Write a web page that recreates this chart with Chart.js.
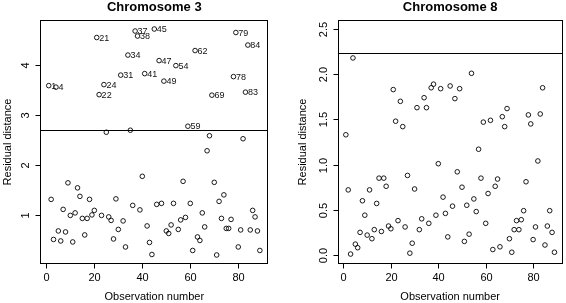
<!DOCTYPE html>
<html>
<head>
<meta charset="utf-8">
<script src="https://cdn.jsdelivr.net/npm/chart.js@4.4.0/dist/chart.umd.min.js"></script>
<style>
html,body{margin:0;padding:0;background:#fff;}
#wrap{position:relative;width:566px;height:303px;overflow:hidden;}
canvas{position:absolute;top:0;}
</style>
</head>
<body>
<div id="wrap">
<canvas id="c3" width="283" height="303" style="left:0"></canvas>
<canvas id="c8" width="283" height="303" style="left:283px"></canvas>
</div>
<script>
// observation numbers (x)
const obs = [1,2,3,4,5,6,7,8,9,10,11,12,13,14,15,16,17,18,19,20,
  21,22,23,24,25,26,27,28,29,30,31,32,33,34,35,36,37,38,39,40,
  41,42,43,44,45,46,47,48,49,50,51,52,53,54,55,56,57,58,59,60,
  61,62,63,64,65,66,67,68,69,70,71,72,73,74,75,76,77,78,79,80,
  81,82,83,84,85,86,87,88,89];

// residual distances, chromosome 3
const chr3 = [3.59,1.32,0.52,3.56,0.69,0.49,1.12,0.67,1.65,1.00,
  0.47,1.05,1.55,1.38,0.94,0.61,0.94,1.32,1.01,1.10,
  4.55,3.41,1.00,3.61,2.66,0.97,0.90,0.53,1.33,0.72,
  3.80,0.89,0.37,4.20,2.70,1.20,4.68,4.58,1.11,1.78,
  3.83,0.79,0.46,0.22,4.72,1.22,4.09,1.24,3.68,0.69,
  0.64,0.81,1.24,3.99,0.72,0.91,1.68,0.96,2.78,1.24,
  0.30,4.29,0.57,0.50,1.05,0.77,2.29,2.59,3.40,1.66,
  0.21,1.28,0.94,1.41,0.74,0.74,0.92,3.77,4.65,0.37,
  0.71,2.53,3.46,4.40,0.71,1.10,0.97,0.69,0.30];

// residual distances, chromosome 8
const chr8 = [1.33,0.72,0.01,2.18,0.12,0.08,0.25,0.60,0.44,0.22,
  0.72,0.18,0.28,0.57,0.85,0.26,0.85,0.76,0.32,0.29,
  1.83,1.48,0.38,1.70,1.42,0.31,0.88,0.02,0.13,0.73,
  1.63,0.28,0.40,1.74,1.63,0.35,1.85,1.89,0.44,1.01,
  1.84,0.64,0.46,0.20,1.87,0.54,1.73,0.92,1.84,0.75,
  0.15,0.55,0.23,2.01,0.62,0.48,1.17,0.85,1.47,0.35,
  0.68,1.49,0.06,0.76,0.84,0.09,1.53,1.42,1.62,0.18,
  0.03,0.28,0.38,0.28,0.39,0.49,0.81,1.55,1.45,0.17,
  0.31,1.04,1.56,1.85,0.11,0.32,0.49,0.25,0.03];

// outliers labelled on chromosome 3
const chr3Outliers = [1,4,21,22,24,31,34,37,38,41,45,47,49,54,59,62,69,78,79,83,84];
const chr8Outliers = [];

const xTicks = [0,20,40,60,80];
const chr3YTicks = [1,2,3,4];
const chr3YTickLabels = ['1','2','3','4'];
const chr8YTicks = [0,0.5,1,1.5,2,2.5];
const chr8YTickLabels = ['0.0','0.5','1.0','1.5','2.0','2.5'];

const chr3Cutoff = 2.71;
const chr8Cutoff = 2.24;

const FONT = '"Liberation Sans", Arial, Helvetica, sans-serif';

const rPlot = (p) => ({
  id: 'rPlot',
  beforeDatasetsDraw(chart) {
    const ctx = chart.ctx, a = chart.chartArea;
    const xs = chart.scales.x, ys = chart.scales.y;
    const L = Math.round(a.left) + 0.5, R = Math.round(a.right) - 0.5;
    const T = Math.round(a.top) + 0.5, B = Math.round(a.bottom) - 0.5;
    ctx.save();
    ctx.strokeStyle = '#000';
    ctx.lineWidth = 1;
    ctx.strokeRect(L, T, R - L, B - T);
    // cutoff line
    const cy = Math.round(ys.getPixelForValue(p.cutoff)) + 0.5;
    ctx.beginPath(); ctx.moveTo(L, cy); ctx.lineTo(R, cy); ctx.stroke();
    // x axis
    ctx.fillStyle = '#000';
    ctx.font = '11px ' + FONT;
    ctx.textAlign = 'center';
    ctx.textBaseline = 'middle';
    xTicks.forEach(t => {
      const px = Math.round(xs.getPixelForValue(t)) + 0.5;
      ctx.beginPath(); ctx.moveTo(px, B); ctx.lineTo(px, B + 5); ctx.stroke();
      ctx.fillText(String(t), px, B + 14.5);
    });
    // y axis
    p.yTicks.forEach((t, i) => {
      const py = Math.round(ys.getPixelForValue(t)) + 0.5;
      ctx.beginPath(); ctx.moveTo(L - 5, py); ctx.lineTo(L, py); ctx.stroke();
      ctx.save();
      ctx.translate(L - 15, py);
      ctx.rotate(-Math.PI / 2);
      ctx.fillText(p.yTickLabels[i], 0, 0);
      ctx.restore();
    });
    // titles
    const cx = (a.left + a.right) / 2;
    ctx.fillText('Observation number', cx, 297);
    ctx.save();
    ctx.translate(a.left - p.ylabOff, (a.top + a.bottom) / 2);
    ctx.rotate(-Math.PI / 2);
    ctx.fillText('Residual distance', 0, 0);
    ctx.restore();
    ctx.font = 'bold 13px ' + FONT;
    ctx.fillText(p.title, cx, 7);
    ctx.restore();
  },
  afterDatasetsDraw(chart) {
    const ctx = chart.ctx;
    const xs = chart.scales.x, ys = chart.scales.y;
    ctx.save();
    ctx.fillStyle = '#111';
    ctx.font = '9px ' + FONT;
    ctx.textAlign = 'left';
    ctx.textBaseline = 'middle';
    p.outliers.forEach(n => {
      const i = obs.indexOf(n);
      ctx.fillText(String(n), xs.getPixelForValue(obs[i]) + 2.5, ys.getPixelForValue(p.values[i]) + 0.5);
    });
    ctx.restore();
  }
});

function panel(id, p) {
  return new Chart(document.getElementById(id), {
    type: 'scatter',
    data: {
      datasets: [{
        data: obs.map((o, i) => ({ x: o, y: p.values[i] })),
        pointStyle: 'circle',
        pointRadius: 2.3,
        pointHoverRadius: 2.3,
        pointBorderWidth: 0.9,
        pointBorderColor: '#000',
        pointBackgroundColor: 'rgba(0,0,0,0)'
      }]
    },
    options: {
      responsive: false,
      animation: false,
      events: [],
      layout: { padding: p.pad },
      plugins: { legend: { display: false }, tooltip: { enabled: false } },
      scales: {
        x: { type: 'linear', display: false, min: -2.52, max: 92.52 },
        y: { type: 'linear', display: false, min: p.yRange[0], max: p.yRange[1] }
      }
    },
    plugins: [rPlot(p)]
  });
}

panel('c3', {
  title: 'Chromosome 3', values: chr3, outliers: chr3Outliers,
  yTicks: chr3YTicks, yTickLabels: chr3YTickLabels, cutoff: chr3Cutoff,
  yRange: [0.03, 4.90], ylabOff: 32.5,
  pad: { left: 40.3, right: 14.7, top: 20, bottom: 39 }
});
panel('c8', {
  title: 'Chromosome 8', values: chr8, outliers: chr8Outliers,
  yTicks: chr8YTicks, yTickLabels: chr8YTickLabels, cutoff: chr8Cutoff,
  yRange: [-0.1, 2.6], ylabOff: 35,
  pad: { left: 54.5, right: 0.5, top: 20, bottom: 39 }
});
</script>
</body>
</html>
